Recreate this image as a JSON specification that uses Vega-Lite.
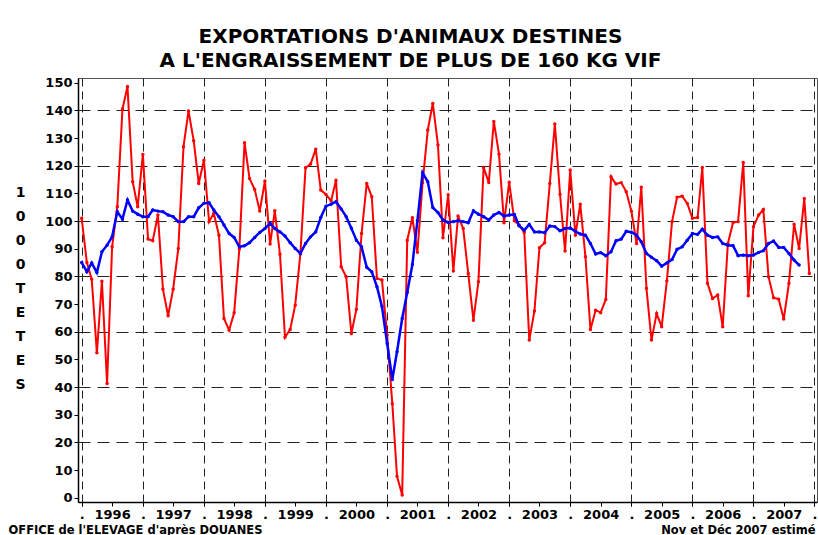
{
  "$schema": "https://vega.github.io/schema/vega-lite/v6.json",
  "width": 739,
  "height": 424,
  "autosize": "none",
  "padding": {"left": 78, "top": 78, "right": 1, "bottom": 33},
  "background": "white",
  "config": {"view": {"stroke": "#555", "strokeWidth": 1}, "font": "DejaVu Sans"},
  "title": {
    "text": ["EXPORTATIONS D'ANIMAUX DESTINES", "A L'ENGRAISSEMENT DE PLUS DE 160 KG VIF"],
    "font": "DejaVu Sans", "fontSize": 20, "fontWeight": "bold", "color": "black",
    "lineHeight": 24, "anchor": "middle", "offset": 6, "dx": -37
  },
  "data": {"values": [
    {"mois":"1996-01-01","exp":101,"moy":85},
    {"mois":"1996-02-01","exp":85,"moy":81.7},
    {"mois":"1996-03-01","exp":79,"moy":84.9},
    {"mois":"1996-04-01","exp":52.4,"moy":81.4},
    {"mois":"1996-05-01","exp":78.3,"moy":88.9},
    {"mois":"1996-06-01","exp":41.3,"moy":91.3},
    {"mois":"1996-07-01","exp":90.7,"moy":94.3},
    {"mois":"1996-08-01","exp":105.2,"moy":103.4},
    {"mois":"1996-09-01","exp":140.5,"moy":100.7},
    {"mois":"1996-10-01","exp":148.6,"moy":107.6},
    {"mois":"1996-11-01","exp":114.2,"moy":103.6},
    {"mois":"1996-12-01","exp":105.2,"moy":102.5},
    {"mois":"1997-01-01","exp":124.1,"moy":101.6},
    {"mois":"1997-02-01","exp":93.5,"moy":101.6},
    {"mois":"1997-03-01","exp":92.9,"moy":104},
    {"mois":"1997-04-01","exp":102.2,"moy":103.6},
    {"mois":"1997-05-01","exp":75.4,"moy":103.4},
    {"mois":"1997-06-01","exp":65.8,"moy":102.2},
    {"mois":"1997-07-01","exp":75.4,"moy":101.6},
    {"mois":"1997-08-01","exp":90.1,"moy":99.8},
    {"mois":"1997-09-01","exp":126.9,"moy":99.8},
    {"mois":"1997-10-01","exp":139.8,"moy":101.6},
    {"mois":"1997-11-01","exp":129,"moy":101.6},
    {"mois":"1997-12-01","exp":113.6,"moy":104.8},
    {"mois":"1998-01-01","exp":122,"moy":106.4},
    {"mois":"1998-02-01","exp":99.8,"moy":106.6},
    {"mois":"1998-03-01","exp":102.8,"moy":104},
    {"mois":"1998-04-01","exp":94.9,"moy":101.6},
    {"mois":"1998-05-01","exp":64.8,"moy":98.6},
    {"mois":"1998-06-01","exp":60.6,"moy":95.5},
    {"mois":"1998-07-01","exp":66.9,"moy":94.1},
    {"mois":"1998-08-01","exp":89.9,"moy":90.7},
    {"mois":"1998-09-01","exp":128.3,"moy":91.1},
    {"mois":"1998-10-01","exp":115.4,"moy":92.2},
    {"mois":"1998-11-01","exp":111.4,"moy":94.1},
    {"mois":"1998-12-01","exp":103.6,"moy":95.9},
    {"mois":"1999-01-01","exp":114.5,"moy":97.3},
    {"mois":"1999-02-01","exp":91.7,"moy":99.2},
    {"mois":"1999-03-01","exp":103.7,"moy":97.3},
    {"mois":"1999-04-01","exp":88,"moy":96.1},
    {"mois":"1999-05-01","exp":58,"moy":94.6},
    {"mois":"1999-06-01","exp":60.8,"moy":92.2},
    {"mois":"1999-07-01","exp":69.6,"moy":90.1},
    {"mois":"1999-08-01","exp":88.1,"moy":88.3},
    {"mois":"1999-09-01","exp":119.3,"moy":91.9},
    {"mois":"1999-10-01","exp":120.6,"moy":94.3},
    {"mois":"1999-11-01","exp":126,"moy":96.1},
    {"mois":"1999-12-01","exp":111.2,"moy":101.3},
    {"mois":"2000-01-01","exp":109.6,"moy":105.4},
    {"mois":"2000-02-01","exp":107.3,"moy":106.1},
    {"mois":"2000-03-01","exp":114.8,"moy":107},
    {"mois":"2000-04-01","exp":83.5,"moy":104.4},
    {"mois":"2000-05-01","exp":79.9,"moy":101.6},
    {"mois":"2000-06-01","exp":59.4,"moy":97.4},
    {"mois":"2000-07-01","exp":68.1,"moy":93.1},
    {"mois":"2000-08-01","exp":95.5,"moy":90.7},
    {"mois":"2000-09-01","exp":113.6,"moy":83.3},
    {"mois":"2000-10-01","exp":108.8,"moy":81.7},
    {"mois":"2000-11-01","exp":79.3,"moy":76.3},
    {"mois":"2000-12-01","exp":78.7,"moy":69.1},
    {"mois":"2001-01-01","exp":58.8,"moy":55.8},
    {"mois":"2001-02-01","exp":34,"moy":42.8},
    {"mois":"2001-03-01","exp":7.8,"moy":52.8},
    {"mois":"2001-04-01","exp":1,"moy":64.8},
    {"mois":"2001-05-01","exp":93.1,"moy":74.2},
    {"mois":"2001-06-01","exp":101.2,"moy":84.3},
    {"mois":"2001-07-01","exp":88.7,"moy":100.1},
    {"mois":"2001-08-01","exp":113.9,"moy":117.5},
    {"mois":"2001-09-01","exp":132.9,"moy":114.2},
    {"mois":"2001-10-01","exp":142.5,"moy":104.9},
    {"mois":"2001-11-01","exp":127.5,"moy":103.1},
    {"mois":"2001-12-01","exp":94,"moy":100.4},
    {"mois":"2002-01-01","exp":109.5,"moy":99.5},
    {"mois":"2002-02-01","exp":82,"moy":99.8},
    {"mois":"2002-03-01","exp":101.8,"moy":100.1},
    {"mois":"2002-04-01","exp":97.3,"moy":99.8},
    {"mois":"2002-05-01","exp":81.1,"moy":99.4},
    {"mois":"2002-06-01","exp":64.2,"moy":103.7},
    {"mois":"2002-07-01","exp":78.1,"moy":102.5},
    {"mois":"2002-08-01","exp":119.4,"moy":101.6},
    {"mois":"2002-09-01","exp":113.9,"moy":100.4},
    {"mois":"2002-10-01","exp":136,"moy":102.2},
    {"mois":"2002-11-01","exp":124.2,"moy":103.1},
    {"mois":"2002-12-01","exp":99.4,"moy":101.8},
    {"mois":"2003-01-01","exp":114,"moy":102.2},
    {"mois":"2003-02-01","exp":100.1,"moy":102.4},
    {"mois":"2003-03-01","exp":98.6,"moy":98.3},
    {"mois":"2003-04-01","exp":95.9,"moy":96.7},
    {"mois":"2003-05-01","exp":57,"moy":98.8},
    {"mois":"2003-06-01","exp":67.5,"moy":96.1},
    {"mois":"2003-07-01","exp":90.4,"moy":96.1},
    {"mois":"2003-08-01","exp":92.2,"moy":95.8},
    {"mois":"2003-09-01","exp":113.6,"moy":98.2},
    {"mois":"2003-10-01","exp":135.1,"moy":98},
    {"mois":"2003-11-01","exp":109.7,"moy":96.5},
    {"mois":"2003-12-01","exp":89.2,"moy":97.3},
    {"mois":"2004-01-01","exp":118.5,"moy":97.5},
    {"mois":"2004-02-01","exp":94.9,"moy":96.3},
    {"mois":"2004-03-01","exp":106.1,"moy":95.3},
    {"mois":"2004-04-01","exp":87.1,"moy":94.9},
    {"mois":"2004-05-01","exp":60.8,"moy":91.9},
    {"mois":"2004-06-01","exp":67.8,"moy":88.1},
    {"mois":"2004-07-01","exp":66.9,"moy":88.6},
    {"mois":"2004-08-01","exp":71.7,"moy":87.5},
    {"mois":"2004-09-01","exp":116,"moy":88.9},
    {"mois":"2004-10-01","exp":113.4,"moy":92.9},
    {"mois":"2004-11-01","exp":113.9,"moy":93.5},
    {"mois":"2004-12-01","exp":110.6,"moy":96.3},
    {"mois":"2005-01-01","exp":103.6,"moy":96},
    {"mois":"2005-02-01","exp":91.9,"moy":94.9},
    {"mois":"2005-03-01","exp":112.2,"moy":92.5},
    {"mois":"2005-04-01","exp":75.7,"moy":88.3},
    {"mois":"2005-05-01","exp":57,"moy":86.9},
    {"mois":"2005-06-01","exp":66.6,"moy":85.7},
    {"mois":"2005-07-01","exp":61.8,"moy":83.7},
    {"mois":"2005-08-01","exp":78.4,"moy":84.9},
    {"mois":"2005-09-01","exp":99.8,"moy":86.1},
    {"mois":"2005-10-01","exp":108.6,"moy":89.8},
    {"mois":"2005-11-01","exp":109,"moy":90.7},
    {"mois":"2005-12-01","exp":106.4,"moy":93.1},
    {"mois":"2006-01-01","exp":101,"moy":95.5},
    {"mois":"2006-02-01","exp":101.3,"moy":95.2},
    {"mois":"2006-03-01","exp":119.4,"moy":97.1},
    {"mois":"2006-04-01","exp":77.5,"moy":94.9},
    {"mois":"2006-05-01","exp":72,"moy":94.1},
    {"mois":"2006-06-01","exp":73.3,"moy":94.3},
    {"mois":"2006-07-01","exp":61.8,"moy":91.9},
    {"mois":"2006-08-01","exp":91.9,"moy":91.3},
    {"mois":"2006-09-01","exp":99.5,"moy":91.1},
    {"mois":"2006-10-01","exp":99.8,"moy":87.5},
    {"mois":"2006-11-01","exp":121.2,"moy":87.7},
    {"mois":"2006-12-01","exp":73,"moy":87.5},
    {"mois":"2007-01-01","exp":98,"moy":87.7},
    {"mois":"2007-02-01","exp":102.2,"moy":88.7},
    {"mois":"2007-03-01","exp":104.2,"moy":89.3},
    {"mois":"2007-04-01","exp":79.9,"moy":91.9},
    {"mois":"2007-05-01","exp":72.3,"moy":92.8},
    {"mois":"2007-06-01","exp":71.8,"moy":90.5},
    {"mois":"2007-07-01","exp":64.6,"moy":90.5},
    {"mois":"2007-08-01","exp":77.5,"moy":88.3},
    {"mois":"2007-09-01","exp":98.9,"moy":85.9},
    {"mois":"2007-10-01","exp":90.1,"moy":84.1},
    {"mois":"2007-11-01","exp":108.2,"moy":null},
    {"mois":"2007-12-01","exp":81.1,"moy":null}
  ]},
  "resolve": {"axis": {"x": "independent", "y": "independent"}},
  "layer": [
    {
      "mark": {"type": "line", "color": "#ff0000", "strokeWidth": 2,
               "point": {"filled": true, "size": 12, "color": "#ff0000"}},
      "encoding": {
        "x": {"field": "mois", "type": "temporal",
              "scale": {"type": "utc", "domain": [
                {"year": 1995, "month": 12, "date": 10, "utc": true},
                {"year": 2008, "month": 1, "date": 16, "utc": true}]},
              "axis": {"orient": "bottom", "tickCount": {"interval": "month", "step": 6},
                       "labelExpr": "utcmonth(datum.value) == 0 ? '.' : utcFormat(datum.value, '%Y')",
                       "labelFont": "DejaVu Sans", "labelFontSize": 13, "labelFontWeight": "bold",
                       "labelColor": "black", "labelPadding": 2, "labelFlush": false, "labelOverlap": false,
                       "grid": false, "domainColor": "black", "domainWidth": 1.5,
                       "tickColor": "black", "tickSize": 4, "tickWidth": 1,
                       "title": "OFFICE de l'ELEVAGE d'après DOUANES",
                       "titleX": -70, "titleY": 28, "titleAlign": "left", "titleBaseline": "middle",
                       "titleFont": "DejaVu Sans", "titleFontSize": 11.5, "titleFontWeight": "bold",
                       "titleColor": "black"}},
        "y": {"field": "exp", "type": "quantitative",
              "scale": {"domain": [-1.5, 151.7], "nice": false, "zero": false},
              "axis": {"orient": "left", "values": [0,10,20,30,40,50,60,70,80,90,100,110,120,130,140,150],
                       "labelFont": "DejaVu Sans", "labelFontSize": 13, "labelFontWeight": "bold",
                       "labelColor": "black", "labelPadding": 2, "tickSize": 4, "tickColor": "black",
                       "domainColor": "black", "domainWidth": 1.5, "grid": false,
                       "title": ["1", "0", "0", "0", "T", "E", "T", "E", "S"],
                       "titleAngle": 0, "titleX": -58, "titleY": 107, "titleAlign": "center",
                       "titleBaseline": "top", "titleFont": "DejaVu Sans", "titleFontSize": 14,
                       "titleFontWeight": "bold", "titleLineHeight": 24, "titleColor": "black"}}
      }
    },
    {
      "mark": {"type": "line", "color": "#0000ff", "strokeWidth": 2.5,
               "point": {"filled": true, "size": 12, "color": "#0000ff"}},
      "encoding": {
        "x": {"field": "mois", "type": "temporal",
              "axis": {"orient": "bottom", "tickCount": {"interval": "year", "step": 1},
                       "labels": false, "ticks": true, "tickSize": 4, "tickColor": "black",
                       "domain": false, "grid": true, "gridDash": [8, 5], "gridColor": "#222",
                       "gridWidth": 1, "gridOpacity": 1,
                       "title": "Nov et Déc 2007 estimé",
                       "titleX": 737, "titleY": 28, "titleAlign": "right", "titleBaseline": "middle",
                       "titleFont": "DejaVu Sans", "titleFontSize": 11.5, "titleFontWeight": "bold",
                       "titleColor": "black"}},
        "y": {"field": "moy", "type": "quantitative",
              "axis": {"orient": "left", "values": [20,40,60,80,100,120,140],
                       "labels": false, "ticks": false, "domain": false, "grid": true,
                       "gridDash": [12, 7], "gridColor": "#222", "gridWidth": 1, "gridOpacity": 1,
                       "title": null}}
      }
    }
  ]
}
